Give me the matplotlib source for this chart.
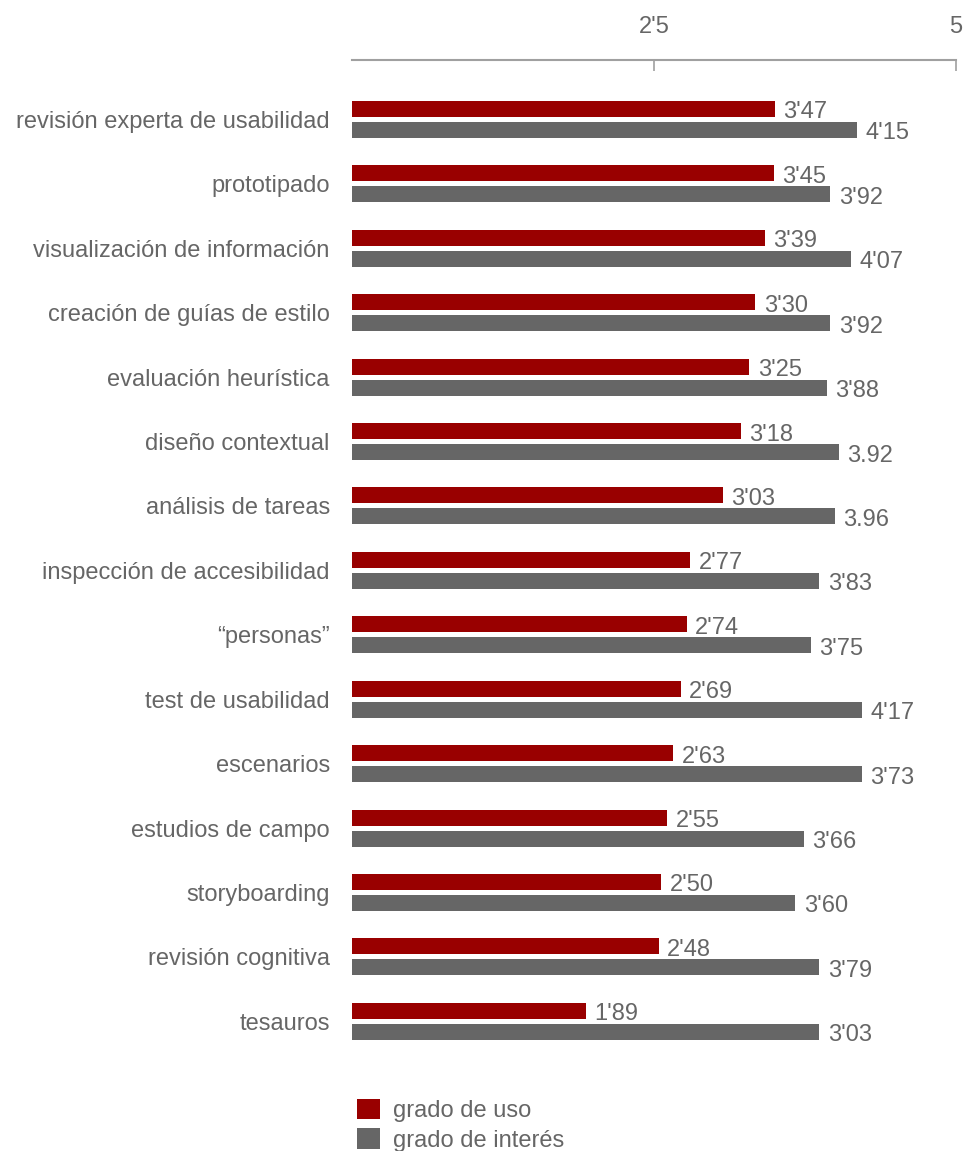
import matplotlib.pyplot as plt
import numpy as np

plt.rcParams['font.family'] = ['Liberation Sans', 'DejaVu Sans']

# Técnicas (de arriba a abajo)
tecnicas = ['revisión experta de usabilidad', 'prototipado', 'visualización de información',
            'creación de guías de estilo', 'evaluación heurística', 'diseño contextual',
            'análisis de tareas', 'inspección de accesibilidad', '\u201cpersonas\u201d',
            'test de usabilidad', 'escenarios', 'estudios de campo', 'storyboarding',
            'revisión cognitiva', 'tesauros']

# Longitud de las barras tal como aparecen en el gráfico (escala 0-5)
uso = [3.50, 3.49, 3.42, 3.34, 3.29, 3.22, 3.07, 2.80, 2.77, 2.72, 2.66, 2.61, 2.56, 2.54, 1.94]
interes = [4.18, 3.96, 4.13, 3.96, 3.93, 4.03, 4.00, 3.87, 3.80, 4.22, 4.22, 3.74, 3.67, 3.87, 3.87]

# Etiquetas de valor (texto original)
uso_txt = ["3'47", "3'45", "3'39", "3'30", "3'25", "3'18", "3'03", "2'77", "2'74", "2'69",
           "2'63", "2'55", "2'50", "2'48", "1'89"]
interes_txt = ["4'15", "3'92", "4'07", "3'92", "3'88", "3.92", "3.96", "3'83", "3'75", "4'17",
               "3'73", "3'66", "3'60", "3'79", "3'03"]

ticks = [2.5, 5]
tick_txt = ["2'5", "5"]

ROJO = '#990000'
GRIS = '#666666'
TEXTO = '#666666'
FS = 17

W, H = 967, 1151
fig = plt.figure(figsize=(W / 100, H / 100), dpi=100)
ax = fig.add_axes([352 / W, 1 - 1060 / H, 604 / W, 1000 / H])

y = np.arange(len(tecnicas))
h = 0.248
off = 0.163
b1 = ax.barh(y - off, uso, height=h, color=ROJO, label='grado de uso')
b2 = ax.barh(y + off, interes, height=h, color=GRIS, label='grado de interés')

for i in range(len(tecnicas)):
    ax.annotate(uso_txt[i], (uso[i], y[i] - off), xytext=(6, -2.5), textcoords='offset points',
                va='center', ha='left', fontsize=FS, color=TEXTO)
    ax.annotate(interes_txt[i], (interes[i], y[i] + off), xytext=(6, -2.5), textcoords='offset points',
                va='center', ha='left', fontsize=FS, color=TEXTO)

ax.set_xlim(0, 5)
ax.set_ylim(14.6, -0.923)

ax.xaxis.tick_top()
ax.set_xticks(ticks)
ax.set_xticklabels(tick_txt, fontsize=FS, color=TEXTO)
ax.tick_params(axis='x', direction='in', length=8, width=1.2, color='#a0a0a0', pad=16)

ax.set_yticks(y)
ax.set_yticklabels(tecnicas, fontsize=FS, color=TEXTO)
ax.tick_params(axis='y', length=0, pad=16)

for s in ['left', 'right', 'bottom']:
    ax.spines[s].set_visible(False)
ax.spines['top'].set_color('#a0a0a0')
ax.spines['top'].set_linewidth(1.5)

fig.legend(handles=[b1, b2], loc='upper left', bbox_to_anchor=(357 / W, 1 - 1099 / H),
           frameon=False, fontsize=FS, labelcolor=TEXTO, handlelength=0.98, handleheight=0.95,
           handletextpad=0.55, labelspacing=0.25, borderpad=0, borderaxespad=0)

plt.savefig('out.png', dpi=100)
